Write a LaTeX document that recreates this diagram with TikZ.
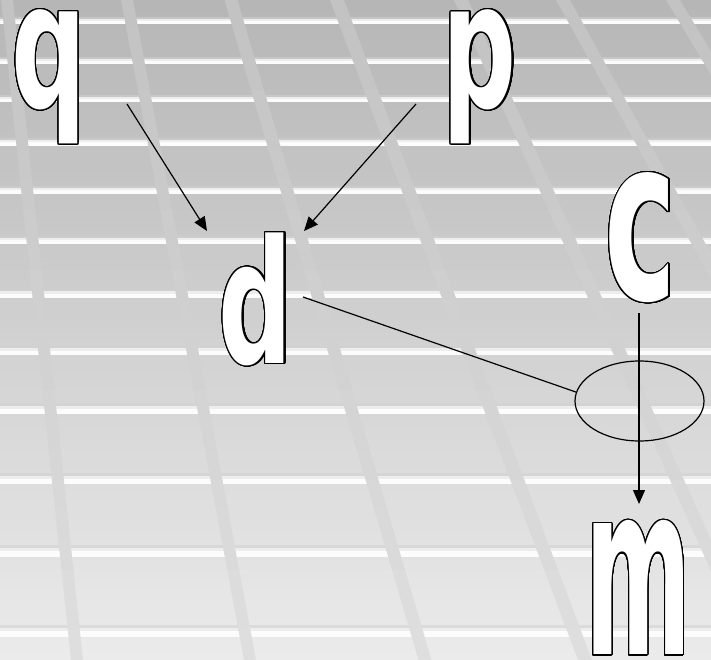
\documentclass[tikz,border=0pt]{standalone}
\usepackage{fontspec}
\setmainfont{DejaVu Sans}
\usepackage{graphicx}
\usepackage[copies]{contour}
\usetikzlibrary{shapes.geometric,arrows.meta}
\contourlength{1.25pt}
\contournumber{32}

% outlined letter squeezed into a given box: width, total height, letter
\newcommand{\bigletter}[3]{{\color{white}\contour{black}{\resizebox*{#1}{#2}{\bfseries #3}}}}

\tikzset{
  letter/.style={inner sep=0pt, outer sep=0pt},
  link/.style={line width=1.2pt, black},
  arrowlink/.style={link, -{Triangle[length=14pt,width=12pt]}},
  ring/.style={draw=black, line width=1.2pt, ellipse, inner sep=0pt,
               minimum width=129pt, minimum height=80pt}
}

\begin{document}
\begin{tikzpicture}[x=1pt,y=-1pt]
\useasboundingbox (0,0) rectangle (711,660);

% vertical gradient of the backdrop
\foreach \i in {0,...,65}{
  \pgfmathsetmacro\g{(182+53/660*(\i*10+5))/255}
  \definecolor{bgstrip}{gray}{\g}
  \fill[bgstrip] (0,\i*10) rectangle (711,\i*10+10.6);
}

% horizontal light rails: top edge / thickness
\definecolor{railA}{gray}{0.82}
\definecolor{railB}{gray}{0.93}
\definecolor{railC}{gray}{0.99}
\foreach \t/\h in {17.5/7, 57.5/7, 95.5/7, 137.8/8, 185.8/8, 235.8/8,
                   289/9, 346/9, 403/11, 473/11, 545/12, 625/12}{
  \fill[railA, opacity=0.55] (0,\t) rectangle (711,\t+0.25*\h);
  \fill[railB] (0,\t+0.25*\h) rectangle (711,\t+0.5*\h);
  \fill[railC] (0,\t+0.5*\h) rectangle (711,\t+\h);
}

% slanted bands: x at top / x at bottom / width
\foreach \xt/\xb/\w in {7/77/12, 127/250/12, 231/425/13, 337/585/14,
                        461/758/14, 563/930/14, 673/1070/14}{
  \foreach \k in {0,...,21}{
    \pgfmathsetmacro\ya{30*\k}
    \pgfmathsetmacro\yb{30*\k+30.6}
    \pgfmathsetmacro\xa{\xt+(\xb-\xt)/660*\ya}
    \pgfmathsetmacro\xbb{\xt+(\xb-\xt)/660*\yb}
    \pgfmathsetmacro\g{(194+29/660*(\ya+15))/255}
    \definecolor{bandc}{gray}{\g}
    \fill[bandc] (\xa-\w/2,\ya) -- (\xa+\w/2,\ya) -- (\xbb+\w/2,\yb) -- (\xbb-\w/2,\yb) -- cycle;
  }
}

% letters
\node[letter] (q) at (49,77.5)    {\bigletter{75pt}{134pt}{q}};
\node[letter] (p) at (480,77.5)   {\bigletter{74pt}{134pt}{p}};
\node[letter] (d) at (256,300)    {\bigletter{74pt}{133pt}{d}};
\node[letter] (c) at (641,238.5)  {\bigletter{72pt}{130pt}{c}};
\node[letter] (m) at (638.5,588.5){\bigletter{106pt}{134pt}{m}};

% the ring crossed by the c-m link
\node[ring] (e) at (639.5,401) {};

% link end points
\coordinate (qout) at (127,104);
\coordinate (pout) at (416,104);
\coordinate (din1) at (207,231);
\coordinate (din2) at (304,231);
\coordinate (dout) at (303,297);
\coordinate (cout) at (639,313);
\coordinate (min)  at (639,504);

\draw[arrowlink] (qout) -- (din1);
\draw[arrowlink] (pout) -- (din2);
\draw[link] (dout) -- (e.172);
\draw[arrowlink] (cout) -- (min);
\end{tikzpicture}
\end{document}
